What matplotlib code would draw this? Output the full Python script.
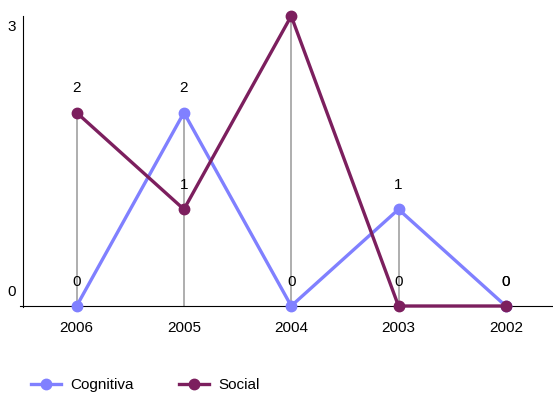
import matplotlib.pyplot as plt
import numpy as np

plt.rcParams['font.family'] = ['Liberation Sans', 'DejaVu Sans']

years = ["2006", "2005", "2004", "2003", "2002"]
cognitiva = [0, 2, 0, 1, 0]
social = [2, 1, 3, 0, 0]

color_cog = "#8080ff"
color_soc = "#7c1f5e"

fig = plt.figure(figsize=(5.53, 3.95), dpi=100)
ax = fig.add_axes([23 / 553, (395 - 306) / 395, 1 - 23 / 553, 290 / 395])

x = np.arange(len(years))
ymax = 3

# grey drop lines from the axis to the highest point of each year
tops = np.maximum(cognitiva, social)
ax.vlines(x, 0, tops, color="#999999", lw=1.1, zorder=1)

ax.plot(x, cognitiva, color=color_cog, lw=2.4, marker="o", ms=7.5,
        label="Cognitiva", zorder=3, clip_on=False)
ax.plot(x, social, color=color_soc, lw=2.4, marker="o", ms=7.5,
        label="Social", zorder=4, clip_on=False)

# value labels above each point (the ones at the top fall outside the plot)
for serie in (cognitiva, social):
    for xi, v in zip(x, serie):
        if v >= ymax:
            continue
        ax.annotate(str(v), (xi, v), xytext=(0, 17.5), textcoords="offset points",
                    ha="center", va="center", fontsize=11, color="black")

ax.set_xlim(-0.5, 4.44)
ax.set_ylim(0, ymax)

for s in ("top", "right"):
    ax.spines[s].set_visible(False)
ax.spines["left"].set_bounds(-0.013, 3)
ax.spines["bottom"].set_bounds(-0.53, 4.44)

ax.set_xticks(x)
ax.set_xticklabels(years, fontsize=11)
ax.tick_params(axis="x", length=0, pad=11)
ax.set_yticks([])

ax.text(-0.014, 0.985, "3", transform=ax.transAxes, ha="right", va="top", fontsize=11)
ax.text(-0.014, 0.025, "0", transform=ax.transAxes, ha="right", va="bottom", fontsize=11)

ax.legend(loc="lower left", bbox_to_anchor=(-0.01, -0.345), ncol=2, frameon=False,
          fontsize=11, handlelength=1.95, columnspacing=2.95, handletextpad=0.6)

fig.savefig("out.png", dpi=100)
